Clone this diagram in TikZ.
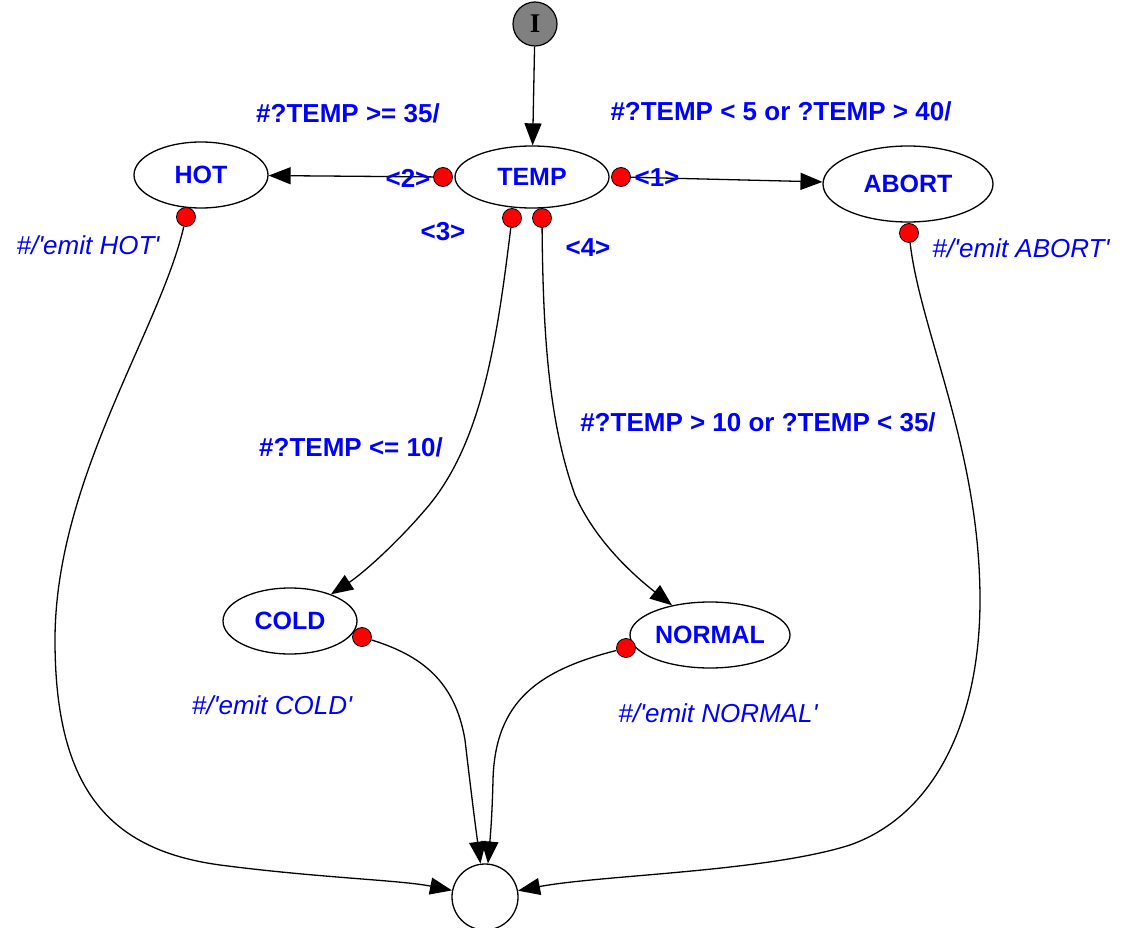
\documentclass[tikz,border=0pt]{standalone}
\usepackage{fontspec}
\setmainfont{Liberation Sans}[Ligatures=TeXOff]
\newfontfamily\serifI{Liberation Serif}
\usetikzlibrary{shapes.geometric,arrows.meta}
\definecolor{labblue}{RGB}{0,0,255}
\definecolor{initgray}{RGB}{128,128,128}
\begin{document}
\begin{tikzpicture}[x=1pt,y=-1pt,
  state/.style={ellipse,draw=black,line width=1.3pt,fill=white,inner sep=0pt,
    font=\fontsize{25}{25}\selectfont\bfseries,text=labblue},
  portdot/.style={circle,fill=red,draw=black,line width=0.8pt,minimum size=19pt,inner sep=0pt},
  guard/.style={font=\fontsize{26}{26}\selectfont\bfseries,text=labblue,inner sep=0pt},
  act/.style={font=\fontsize{26}{26}\selectfont\itshape,text=labblue,inner sep=0pt},
  trans/.style={draw=black,line width=1.3pt,-{Triangle[length=22pt,width=17pt]}},
]
\useasboundingbox (0,0) rectangle (1122,928);

% states
\node[circle,draw=black,line width=1.2pt,fill=initgray,minimum size=44pt,inner sep=0pt,
      font=\serifI\fontsize{27}{27}\selectfont\bfseries] (I) at (535,24) {I};
\node[state,minimum width=154pt,minimum height=62pt] (TEMP) at (532,177) {TEMP};
\node[state,minimum width=134pt,minimum height=66pt] (HOT) at (201,175) {HOT};
\node[state,minimum width=170pt,minimum height=76pt] (ABORT) at (908,184) {ABORT};
\node[state,minimum width=134pt,minimum height=66pt] (COLD) at (290,621) {COLD};
\node[state,minimum width=160pt,minimum height=66pt] (NORMAL) at (710,635) {NORMAL};
\node[circle,draw=black,line width=1.3pt,fill=white,minimum size=66pt,inner sep=0pt] (final) at (485,897) {};

% ports
\node[portdot] (d2) at (443,177) {};
\node[portdot] (d1) at (621,177) {};
\node[portdot] (d3) at (512,218) {};
\node[portdot] (d4) at (542,218) {};
\node[portdot] (dh) at (186,217) {};
\node[portdot] (da) at (909,233) {};
\node[portdot] (dc) at (362,637) {};
\node[portdot] (dn) at (626,648) {};

% transitions
\draw[trans] (I) -- (TEMP);
\draw[trans] (d2) -- (HOT);
\draw[trans] (d1) -- (ABORT);
\draw[trans] (d3) .. controls (497,340) and (482,445) .. (425,510)
                  .. controls (395,545) and (362,574) .. (COLD);
\draw[trans] (d4) .. controls (543,330) and (548,420) .. (575,495)
                  .. controls (595,540) and (632,574) .. (NORMAL);
\draw[trans] (dh) .. controls (160,330) and (55,480) .. (55,640)
                  .. controls (55,790) and (110,850) .. (220,865)
                  .. controls (320,878) and (400,880) .. (final);
\draw[trans] (da) .. controls (920,330) and (980,450) .. (980,600)
                  .. controls (980,720) and (935,815) .. (850,845)
                  .. controls (765,872) and (600,875) .. (final);
\draw[trans] (dc) .. controls (420,655) and (455,680) .. (465,740)
                  .. controls (472,800) and (476,830) .. (final);
\draw[trans] (dn) .. controls (540,670) and (495,700) .. (493,780)
                  .. controls (492,820) and (490,840) .. (final);

% labels
\node[guard] (g2) at (348,113) {\#?TEMP >= 35/};
\node[guard] (g1) at (781,111) {\#?TEMP < 5 or ?TEMP > 40/};
\node[guard] (g3) at (351,447) {\#?TEMP <= 10/};
\node[guard] (g4) at (758,422) {\#?TEMP > 10 or ?TEMP < 35/};
\node[guard] (p2) at (408,178) {<2>};
\node[guard] (p1) at (657,178) {<1>};
\node[guard] (p3) at (443,232) {<3>};
\node[guard] (p4) at (588,248) {<4>};
\node[act] (ah) at (88,245) {\#/'emit HOT'};
\node[act] (aa) at (1021,248) {\#/'emit ABORT'};
\node[act] (ac) at (272,705) {\#/'emit COLD'};
\node[act] (an) at (718,713) {\#/'emit NORMAL'};
\end{tikzpicture}
\end{document}
